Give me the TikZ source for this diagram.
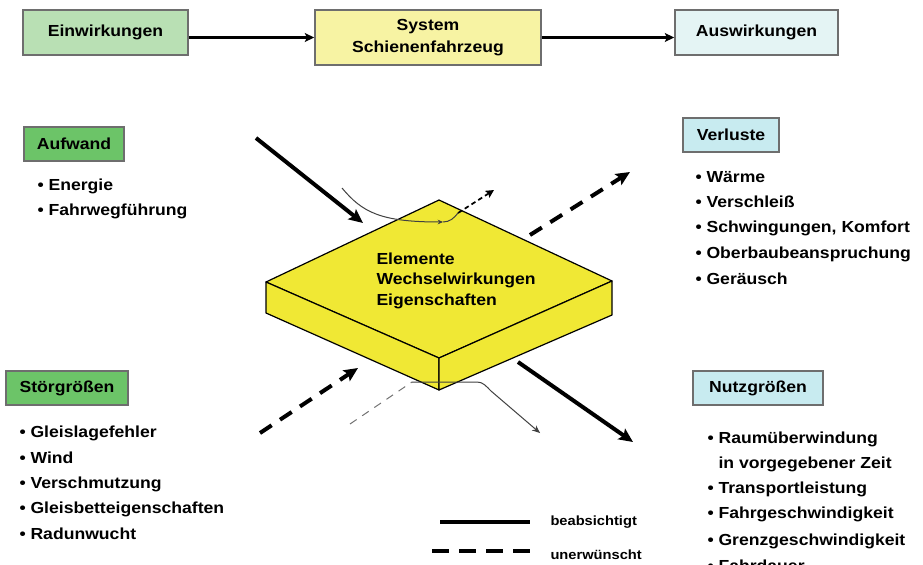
\documentclass[tikz,border=0pt]{standalone}
\usepackage{fontspec}
\setmainfont{Liberation Sans}[FakeStretch=1.1]
\usetikzlibrary{arrows.meta}

\definecolor{einwgreen}{RGB}{185,224,180}
\definecolor{aufgreen}{RGB}{108,196,104}
\definecolor{sysyellow}{RGB}{247,243,163}
\definecolor{auscyan}{RGB}{228,244,244}
\definecolor{verlcyan}{RGB}{200,235,240}
\definecolor{slabyellow}{RGB}{240,232,52}
\definecolor{boxgray}{RGB}{110,110,110}

\tikzset{every picture/.style={line width=0.75pt}}
\tikzset{
  box/.style={draw=boxgray, line width=1.1, inner sep=0, align=center, font=\bfseries\fontsize{12}{16.5}\selectfont},
  itemtext/.style={anchor=base west, inner sep=0, font=\bfseries\fontsize{12}{15}\selectfont},
  legtext/.style={anchor=base west, inner sep=0, font=\bfseries\fontsize{10}{12}\selectfont},
  toparrow/.style={line width=2.2, -{Stealth[length=7pt,width=6.5pt,inset=1.5pt]}},
  bigarrow/.style={line width=3, -{Stealth[length=10.5pt,width=9.5pt,inset=2pt]}},
  unwanted/.style={bigarrow, dash pattern=on 10.5pt off 7.5pt},
  thinflow/.style={line width=0.75, draw=black!75},
}

\begin{document}
\begin{tikzpicture}[x=0.75pt,y=0.75pt,yscale=-1,xscale=1]
	\useasboundingbox (0,0) rectangle (923,564);

	%Shape: Boxes top row
	\node[box, fill=einwgreen, minimum width=123.75pt, minimum height=33.75pt] (einw) at (105.5,32.5) {Einwirkungen};
	\node[box, fill=sysyellow, minimum width=169.5pt, minimum height=41.25pt] (system) at (428,37.5) {System\\Schienenfahrzeug};
	\node[box, fill=auscyan, minimum width=122.25pt, minimum height=33.75pt] (ausw) at (756.5,32.5) {Auswirkungen};
	%Straight Lines top row
	\draw[toparrow] (einw.east |- system.west) -- (system.west);
	\draw[toparrow] (system.east) -- (ausw.west |- system.east);

	%Shape: Boxes side
	\node[box, fill=aufgreen, minimum width=75pt, minimum height=25.5pt] (aufwand) at (74,144) {Aufwand};
	\node[box, fill=verlcyan, minimum width=72pt, minimum height=25.5pt] (verluste) at (731,135) {Verluste};
	\node[box, fill=aufgreen, minimum width=91.5pt, minimum height=25.5pt] (stoer) at (67,388) {Störgrößen};
	\node[box, fill=verlcyan, minimum width=97.5pt, minimum height=25.5pt] (nutz) at (758,388) {Nutzgrößen};

	% Text Node
	\node[itemtext] (aufA) at (37,190.5) {\textbullet\ Energie};
	\node[itemtext] (aufB) at (37,215.5) {\textbullet\ Fahrwegführung};
	% Text Node
	\node[itemtext] (verA) at (695,182.5) {\textbullet\ Wärme};
	\node[itemtext] (verB) at (695,207.5) {\textbullet\ Verschleiß};
	\node[itemtext] (verC) at (695,232.5) {\textbullet\ Schwingungen, Komfort};
	\node[itemtext] (verD) at (695,258.5) {\textbullet\ Oberbaubeanspruchung};
	\node[itemtext] (verE) at (695,284.5) {\textbullet\ Geräusch};
	% Text Node
	\node[itemtext] (stA) at (19,437.5) {\textbullet\ Gleislagefehler};
	\node[itemtext] (stB) at (19,463.5) {\textbullet\ Wind};
	\node[itemtext] (stC) at (19,488.5) {\textbullet\ Verschmutzung};
	\node[itemtext] (stD) at (19,513.5) {\textbullet\ Gleisbetteigenschaften};
	\node[itemtext] (stE) at (19,539.5) {\textbullet\ Radunwucht};
	% Text Node
	\node[itemtext] (nuA) at (707,443.5) {\textbullet\ Raumüberwindung};
	\node[itemtext] (nuB) at (707,468.5) {\phantom{\textbullet\ }in vorgegebener Zeit};
	\node[itemtext] (nuC) at (707,493.5) {\textbullet\ Transportleistung};
	\node[itemtext] (nuD) at (707,518.5) {\textbullet\ Fahrgeschwindigkeit};
	\node[itemtext] (nuE) at (707,545.5) {\textbullet\ Grenzgeschwindigkeit};
	\node[itemtext] (nuF) at (707,571) {\textbullet\ Fahrdauer};

	%Shape: Slab
	\filldraw[fill=slabyellow, draw=black, line width=0.9, line join=round] (439,200) -- (612,281) -- (439,358) -- (266,282) -- cycle;
	\filldraw[fill=slabyellow, draw=black, line width=0.9, line join=round] (266,282) -- (439,358) -- (439,390) -- (266,313) -- cycle;
	\filldraw[fill=slabyellow, draw=black, line width=0.9, line join=round] (439,358) -- (612,281) -- (612,315) -- (439,390) -- cycle;
	% Text Node
	\node[anchor=north west, inner sep=0, align=left, font=\bfseries\fontsize{12}{15.4}\selectfont] (slabtext) at (376,252) {Elemente\\Wechselwirkungen\\Eigenschaften};

	%Straight Lines big arrows
	\coordinate (aufIn0) at (256,138);
	\coordinate (aufIn1) at (363,223);
	\coordinate (verOut0) at (530,235);
	\coordinate (verOut1) at (630,172);
	\coordinate (stIn0) at (260,433);
	\coordinate (stIn1) at (358,368);
	\coordinate (nuOut0) at (518,362);
	\coordinate (nuOut1) at (633,442);
	\draw[bigarrow] (aufIn0) -- (aufIn1);
	\draw[unwanted] (verOut0) -- (verOut1);
	\draw[unwanted] (stIn0) -- (stIn1);
	\draw[bigarrow] (nuOut0) -- (nuOut1);

	%Curve Lines thin flows
	\coordinate (thinIn) at (342,188);
	\coordinate (thinMid) at (443,222);
	\coordinate (thinOut) at (494,190);
	\draw[thinflow, -{Stealth[length=4pt,width=3.5pt]}] (thinIn) .. controls (362,212) and (380,222) .. (thinMid);
	\draw[thinflow] (thinMid) .. controls (450,222) and (454,218) .. (458,213);
	\draw[line width=1.3, dash pattern=on 3.5pt off 2.5pt, -{Stealth[length=6pt,width=6pt,inset=1pt]}] (458,213) -- (thinOut);
	\coordinate (botIn) at (350,424);
	\coordinate (botMid) at (412,382);
	\coordinate (botOut) at (540,433);
	\draw[thinflow, draw=black!55, dash pattern=on 6pt off 5pt] (botIn) -- (botMid);
	\draw[thinflow, -{Stealth[length=6pt,width=5pt]}] (botMid) -- (477,382) .. controls (483,382) and (486,386) .. (491,391) -- (botOut);

	%Straight Lines legend
	\coordinate (legSolidA) at (440,522);
	\coordinate (legSolidB) at (530,522);
	\coordinate (legDashA) at (432,551);
	\coordinate (legDashB) at (530,551);
	\draw[line width=2.6] (legSolidA) -- (legSolidB);
	\draw[line width=2.6, dash pattern=on 12.75pt off 7.5pt] (legDashA) -- (legDashB);
	% Text Node
	\node[legtext] (legA) at (550,525) {beabsichtigt};
	\node[legtext] (legB) at (550,559) {unerwünscht};

\end{tikzpicture}
\end{document}
